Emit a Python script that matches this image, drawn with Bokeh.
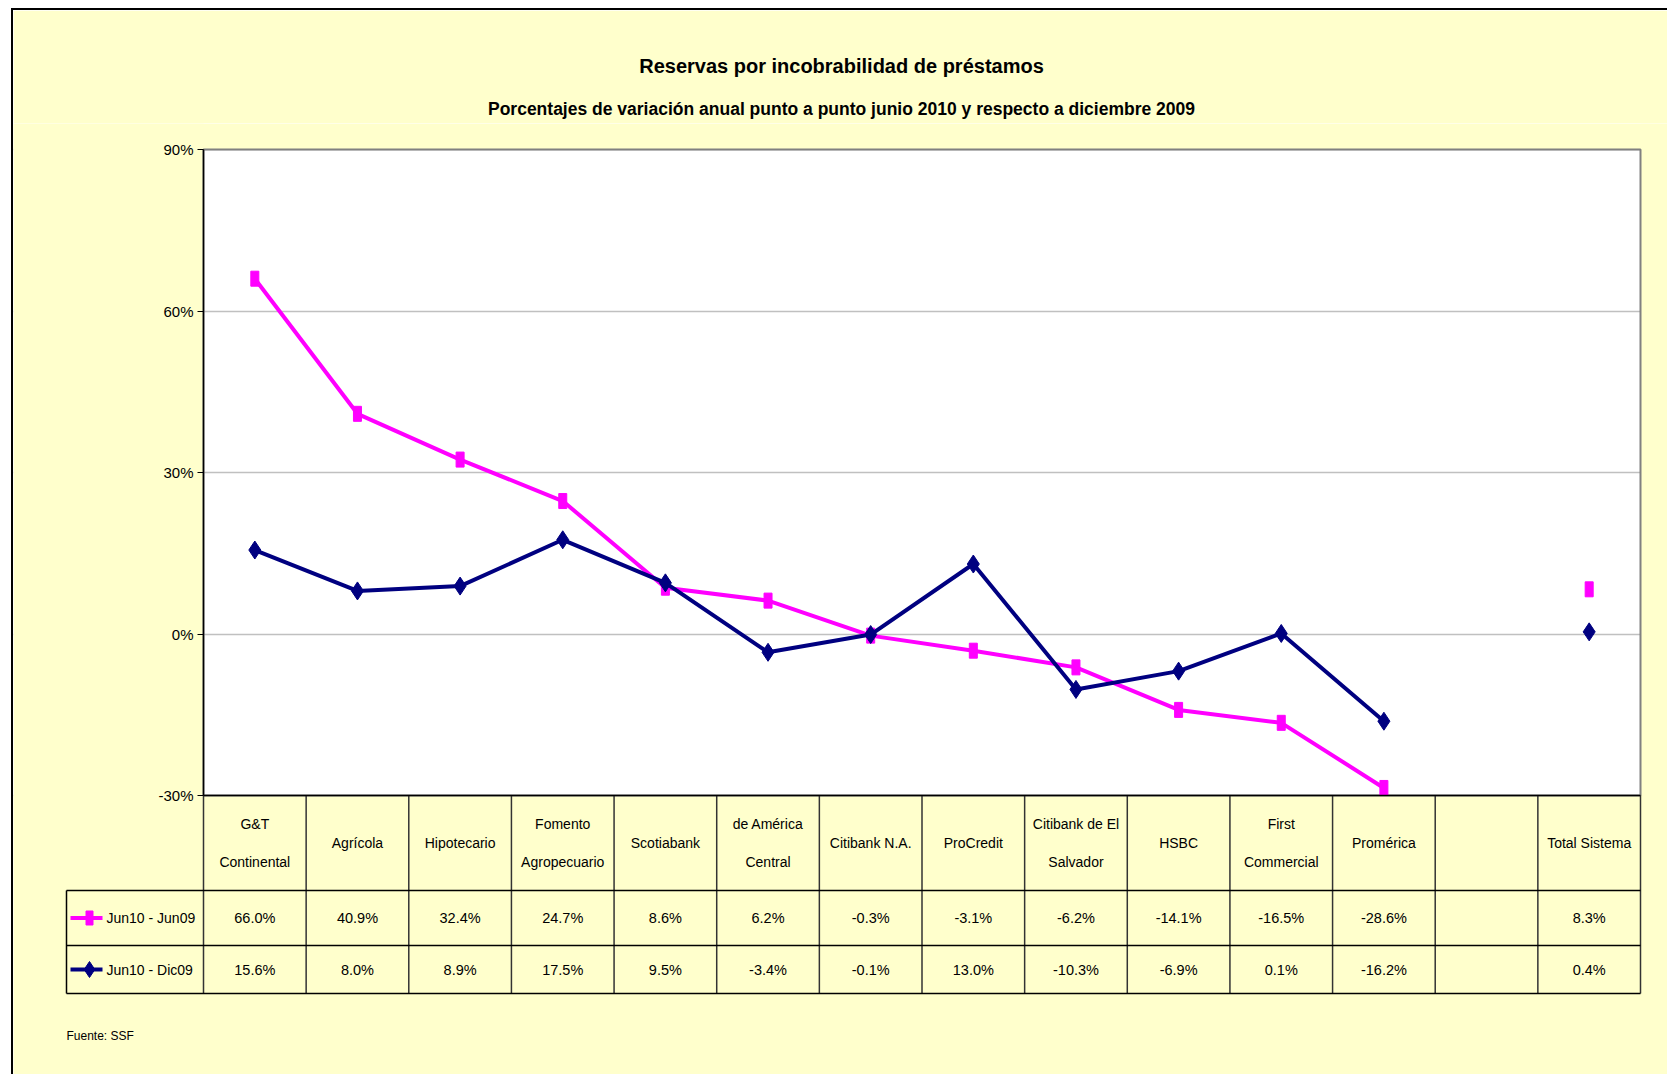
import math
from bokeh.plotting import figure
from bokeh.models import Range1d, FixedTicker, LinearAxis, Title, ColumnDataSource, Grid, Label
from bokeh.core.properties import value
from bokeh.embed import file_html
from bokeh.resources import INLINE

# ---------------- data ----------------
title_text = "Reservas por incobrabilidad de préstamos"
subtitle_text = "Porcentajes de variación anual punto a punto junio 2010 y respecto a diciembre 2009"
source_note = "Fuente: SSF"

banks = ["G&T\nContinental", "Agrícola", "Hipotecario", "Fomento\nAgropecuario", "Scotiabank",
         "de América\nCentral", "Citibank N.A.", "ProCredit", "Citibank de El\nSalvador", "HSBC",
         "First\nCommercial", "Promérica", "", "Total Sistema"]
series_names = ["Jun10 - Jun09", "Jun10 - Dic09"]
jun10_jun09 = [66.0, 40.9, 32.4, 24.7, 8.6, 6.2, -0.3, -3.1, -6.2, -14.1, -16.5, -28.6, float("nan"), 8.3]
jun10_dic09 = [15.6, 8.0, 8.9, 17.5, 9.5, -3.4, -0.1, 13.0, -10.3, -6.9, 0.1, -16.2, float("nan"), 0.4]
y_ticks = [-30, 0, 30, 60, 90]
y_tick_labels = ["-30%", "0%", "30%", "60%", "90%"]

# ---------------- style ----------------
YELLOW = "#FFFFCC"
PINK = "#FF00FF"
NAVY = "#000080"
FONT = "Liberation Sans"

# ---------------- layout (page pixels) ----------------
W, H = 1656, 1066
MARGIN_L, MARGIN_T, BORDER = 11, 8, 2
CX0, CY0 = MARGIN_L + BORDER, MARGIN_T + BORDER   # canvas origin on the page
MB_TOP = 113
FR_L, FR_R, FR_T, FR_B = CX0, CX0 + W, CY0 + MB_TOP, CY0 + H
CH_L, CH_R, CH_T, CH_B = 203, 1640, 149, 795   # chart area
HDR_B, ROW1_B, ROW2_B, LEG_L = 890, 945, 993, 66
N = len(banks)
Y_MIN, Y_MAX = y_ticks[0], y_ticks[-1]
XS = (CH_R - CH_L) / N
YS = (CH_B - CH_T) / (Y_MAX - Y_MIN)


def X(px):
    return -0.5 + (px - CH_L) / XS


def Y(py):
    return Y_MIN + (CH_B - py) / YS


p = figure(width=W, height=H,
           x_range=Range1d(X(FR_L), X(FR_R)), y_range=Range1d(Y(FR_B), Y(FR_T)),
           output_backend="svg", toolbar_location=None,
           x_axis_location=None, y_axis_location=None,
           min_border_left=0, min_border_right=0, min_border_bottom=0, min_border_top=MB_TOP,
           background_fill_color="white", border_fill_color=YELLOW, outline_line_color=None)
p.margin = (MARGIN_T, 0, 0, MARGIN_L)
p.styles = {"border-left": "2px solid #000", "border-top": "2px solid #000"}
p.center = [r for r in p.center if not isinstance(r, Grid)]

# grid lines
p.add_layout(Grid(dimension=1, ticker=FixedTicker(ticks=y_ticks),
                  grid_line_color="#C0C0C0", grid_line_width=1.5))

# yellow background outside the chart area
xl, xr = X(FR_L), X(FR_R)
yb, yt = Y(FR_B), Y(FR_T)
p.quad(left=[xl, -0.5 + N, xl, xl], right=[-0.5, xr, xr, xr],
       bottom=[yb, yb, Y_MAX, yb], top=[yt, yt, yt, Y_MIN],
       fill_color=YELLOW, line_color=None)

# chart border
p.quad(left=[-0.5], right=[N - 0.5], bottom=[Y_MIN], top=[Y_MAX],
       fill_color=None, line_color="#808080", line_width=2)

# series
src = ColumnDataSource(dict(x=list(range(N)), a=jun10_jun09, b=jun10_dic09))
p.line("x", "a", source=src, line_color=PINK, line_width=4)
p.rect("x", "a", source=src, width=8, height=15, width_units="screen", height_units="screen",
       fill_color=PINK, line_color=PINK)
p.line("x", "b", source=src, line_color=NAVY, line_width=4)
p.scatter("x", "b", source=src, marker="diamond", size=18, fill_color=NAVY, line_color=NAVY)

# y axis
yaxis = LinearAxis(ticker=FixedTicker(ticks=y_ticks),
                   major_label_overrides={t: s for t, s in zip(y_ticks, y_tick_labels)},
                   fixed_location=-0.5, bounds=(Y_MIN, Y_MAX),
                   axis_line_color="black", axis_line_width=1.5,
                   major_tick_line_color="black", major_tick_out=6, major_tick_in=0,
                   minor_tick_line_color=None, major_label_standoff=4,
                   major_label_text_font=FONT, major_label_text_font_size="15px",
                   major_label_text_color="black")
p.add_layout(yaxis, "left")

# ---------------- data table ----------------
bounds_x = [k - 0.5 for k in range(N + 1)]
p.segment(x0=bounds_x, x1=bounds_x, y0=[Y(CH_B)] * len(bounds_x), y1=[Y(ROW2_B)] * len(bounds_x),
          line_color="#333333", line_width=1.5)
p.segment(x0=[X(LEG_L)], x1=[X(LEG_L)], y0=[Y(HDR_B)], y1=[Y(ROW2_B)], line_color="black", line_width=1.5)
p.segment(x0=[-0.5, X(LEG_L), X(LEG_L), X(LEG_L)], x1=[N - 0.5] * 4,
          y0=[Y(CH_B), Y(HDR_B), Y(ROW1_B), Y(ROW2_B)], y1=[Y(CH_B), Y(HDR_B), Y(ROW1_B), Y(ROW2_B)],
          line_color="black", line_width=1.5)

hdr_y = Y((CH_B + HDR_B) / 2)
r1_y = Y((HDR_B + ROW1_B) / 2)
r2_y = Y((ROW1_B + ROW2_B) / 2)


def fmt(v):
    return "" if math.isnan(v) else f"{v:.1f}%"


p.text(x=list(range(N)), y=[hdr_y] * N, text=banks, text_align="center", text_baseline="middle",
       text_font=value(FONT), text_font_size="14px", text_color="black", text_line_height=2.4)
p.text(x=list(range(N)), y=[r1_y] * N, text=[fmt(v) for v in jun10_jun09], text_align="center",
       text_baseline="middle", text_font=value(FONT), text_font_size="14.5px", text_color="black")
p.text(x=list(range(N)), y=[r2_y] * N, text=[fmt(v) for v in jun10_dic09], text_align="center",
       text_baseline="middle", text_font=value(FONT), text_font_size="14.5px", text_color="black")

# legend keys in the table
p.segment(x0=[X(70)], x1=[X(102)], y0=[r1_y], y1=[r1_y], line_color=PINK, line_width=4)
p.rect(x=[X(89)], y=[r1_y], width=7, height=14, width_units="screen", height_units="screen",
       fill_color=PINK, line_color=PINK)
p.segment(x0=[X(70)], x1=[X(102)], y0=[r2_y], y1=[r2_y], line_color=NAVY, line_width=4)
p.scatter(x=[X(89)], y=[r2_y], marker="diamond", size=16, fill_color=NAVY, line_color=NAVY)
p.text(x=[X(106)] * 2, y=[r1_y, r2_y], text=series_names, text_align="left", text_baseline="middle",
       text_font=value(FONT), text_font_size="14px", text_color="black")

p.add_layout(Label(x=X(66), y=Y(1035), text=source_note, text_font=FONT, text_font_size="12px",
                   text_baseline="middle", text_color="black"))

# titles
p.add_layout(Title(text=subtitle_text, text_font=FONT, text_font_size="17.5px", text_font_style="bold",
                   align="center", text_color="black"), "above")
p.add_layout(Title(text=title_text, text_font=FONT, text_font_size="20px", text_font_style="bold",
                   align="center", text_color="black", standoff=30), "above")

open("out.html", "w").write(file_html(p, INLINE))
